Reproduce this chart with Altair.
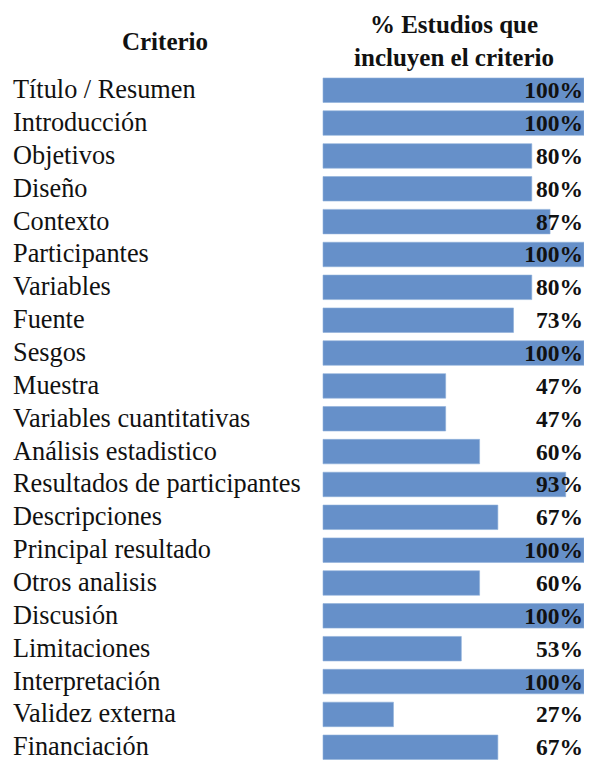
import altair as alt
import pandas as pd

criterios = [
    "Título / Resumen", "Introducción", "Objetivos", "Diseño", "Contexto",
    "Participantes", "Variables", "Fuente", "Sesgos", "Muestra",
    "Variables cuantitativas", "Análisis estadistico", "Resultados de participantes",
    "Descripciones", "Principal resultado", "Otros analisis", "Discusión",
    "Limitaciones", "Interpretación", "Validez externa", "Financiación",
]
porcentajes = [100, 100, 80, 80, 87, 100, 80, 73, 100, 47, 47, 60, 93, 67, 100, 60, 100, 53, 100, 27, 67]
etiquetas = [f"{v}%" for v in porcentajes]

header_left = "Criterio"
header_right = ["% Estudios que", "incluyen el criterio"]

df = pd.DataFrame({"Criterio": criterios, "Pct": porcentajes, "Etiqueta": etiquetas})

FONT = "Liberation Serif"
BAR = "#6690C9"

y_enc = alt.Y("Criterio:N", sort=None, axis=None,
              scale=alt.Scale(range=[65.8, 755.7], paddingInner=0.254, paddingOuter=0.127))

base = alt.Chart(df)

bars = base.mark_bar(color=BAR, stroke="#8FB0DA", strokeWidth=0.6).encode(
    y=y_enc,
    x=alt.X("Pct:Q", axis=None, scale=alt.Scale(domain=[0, 100], range=[315, 576])),
)

left = base.mark_text(align="left", baseline="alphabetic", font=FONT, fontSize=26.3,
                      color="#111111", dy=8).encode(
    y=y_enc, x=alt.value(5), text="Criterio:N")

pct = base.mark_text(align="right", baseline="alphabetic", font=FONT, fontSize=23.5,
                     fontWeight="bold", color="#111111", dy=8).encode(
    y=y_enc, x=alt.value(575), text="Etiqueta:N")

one = alt.Data(values=[{}])
hdr = dict(align="center", baseline="alphabetic", font=FONT, fontSize=25,
           fontWeight="bold", color="#111111")
h1 = alt.Chart(one).mark_text(**hdr).encode(
    x=alt.value(157), y=alt.value(42), text=alt.value(header_left))
h2 = alt.Chart(one).mark_text(**hdr).encode(
    x=alt.value(446), y=alt.value(25), text=alt.value(header_right[0]))
h3 = alt.Chart(one).mark_text(**hdr).encode(
    x=alt.value(446), y=alt.value(58), text=alt.value(header_right[1]))

chart = alt.layer(bars, left, pct, h1, h2, h3).properties(
    width=576, height=752, autosize=alt.AutoSizeParams(type="none"), padding=0
).configure_view(stroke=None)

chart.save("out.html", embed_options={"renderer": "svg", "actions": False})
